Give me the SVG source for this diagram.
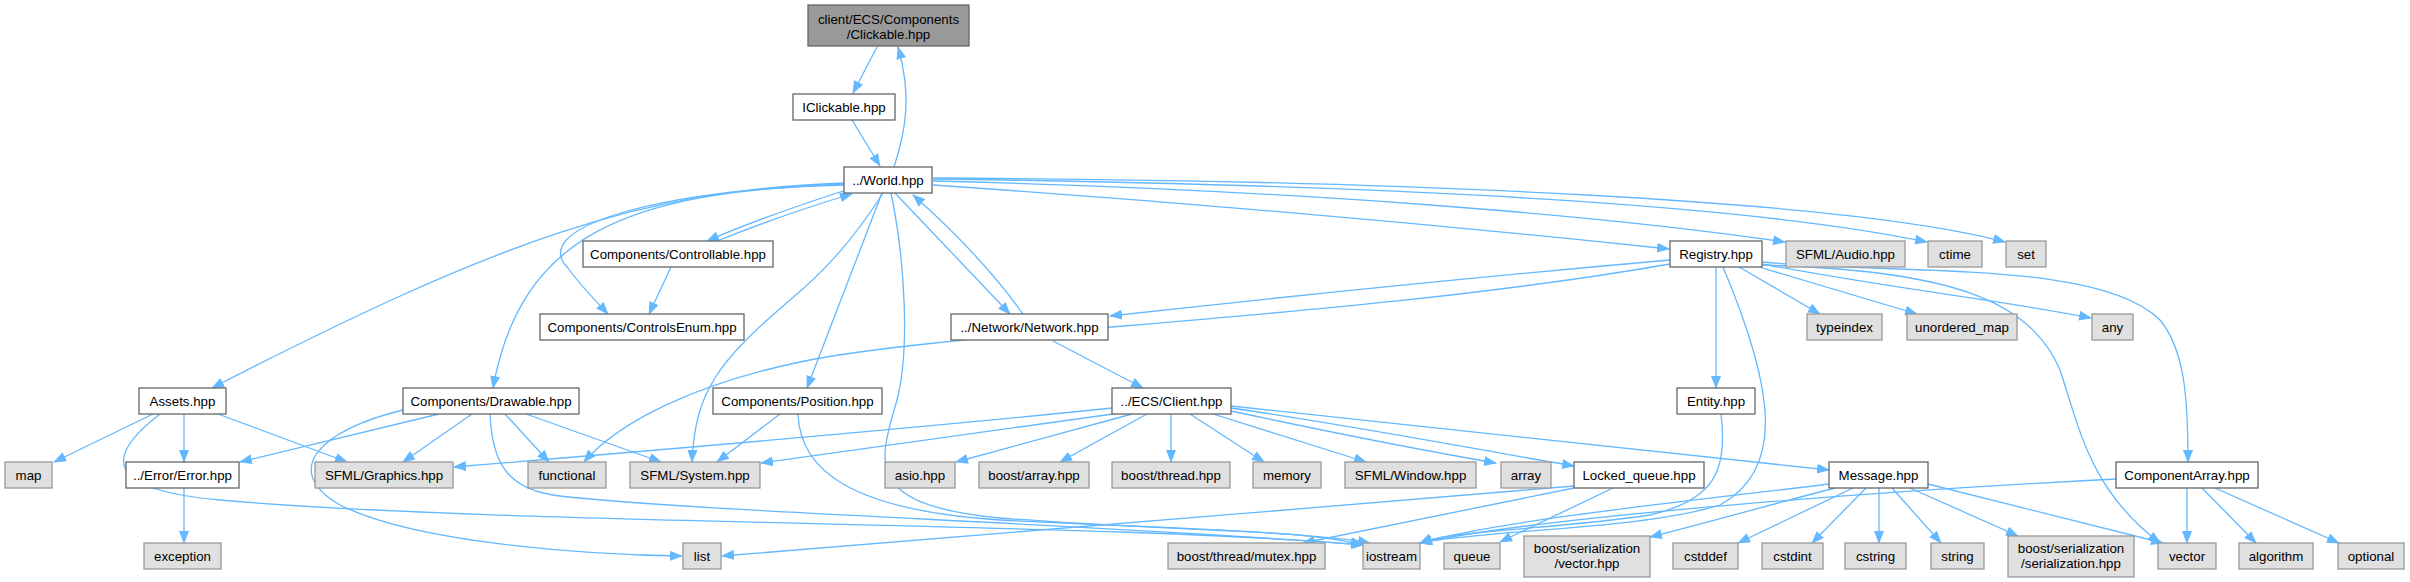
<svg xmlns="http://www.w3.org/2000/svg" width="2410" height="582" viewBox="0 0 2410 582">
<style>
.n rect{fill:#ffffff;stroke:#666666;stroke-width:1.3}
.s rect{fill:#e0e0e0;stroke:#999999;stroke-width:1.3}
.r rect{fill:#999999;stroke:#666666;stroke-width:1.3}
text{font-family:"Liberation Sans",Arial,Helvetica,sans-serif;font-size:13.3px;text-anchor:middle;fill:#000000}
#edges path{fill:none;stroke:#63b8ff;stroke-width:1.3;marker-end:url(#a)}
</style>
<defs>
<marker id="a" markerUnits="userSpaceOnUse" viewBox="0 0 13 10" markerWidth="13" markerHeight="10" refX="12" refY="5" orient="auto">
<path d="M0,0 L13,5 L0,10 z" fill="#63b8ff"/>
</marker>
</defs>
<rect width="2410" height="582" fill="#ffffff"/>
<g id="edges">
<path d="M877,47 L853,93"/>
<path d="M852,120 L880,166"/>
<path d="M894,167 C906,130 912,95 898,47"/>
<path d="M844,183 C640,190 500,240 212,388"/>
<path d="M846,190 C800,205 750,222 707,241"/>
<path d="M717,241 C760,224 810,206 852,194"/>
<path d="M844,184 C640,192 530,230 568,268 C580,285 595,300 608,314"/>
<path d="M671,267 L649,314"/>
<path d="M844,185 C620,190 520,240 493,388"/>
<path d="M883,193 C850,245 820,275 790,300 C720,360 695,390 692,462"/>
<path d="M882,193 L807,388"/>
<path d="M891,193 C905,260 910,350 897,400 C880,460 860,505 1000,518 C1150,530 1300,530 1370,543"/>
<path d="M895,193 L1010,314"/>
<path d="M1023,314 C995,275 955,232 913,195"/>
<path d="M933,185 Q1300,210 1669,249"/>
<path d="M933,181 C1300,190 1600,215 1785,242"/>
<path d="M933,179 C1400,185 1750,205 1927,242"/>
<path d="M933,178 C1400,180 1850,200 2005,242"/>
<path d="M1670,260 C1500,275 1300,295 1110,316"/>
<path d="M1670,264 C1350,320 950,330 800,362 C700,383 620,420 584,462"/>
<path d="M1716,267 L1716,388"/>
<path d="M1723,267 C1775,390 1785,470 1720,505 C1640,530 1480,530 1420,543"/>
<path d="M1739,267 L1820,314"/>
<path d="M1759,267 L1917,314"/>
<path d="M1762,264 C1900,290 2000,300 2091,318"/>
<path d="M1762,262 C1900,275 2100,260 2160,320 C2185,350 2188,400 2188,462"/>
<path d="M1762,265 C1950,270 2030,300 2060,370 C2080,430 2090,490 2160,543"/>
<path d="M1053,341 L1143,388"/>
<path d="M153,414 L54,462"/>
<path d="M184,414 L184,462"/>
<path d="M218,414 L347,462"/>
<path d="M160,414 C100,460 110,490 220,500 C500,525 1100,522 1363,545"/>
<path d="M439,414 L240,462"/>
<path d="M472,414 L403,462"/>
<path d="M505,414 L549,462"/>
<path d="M526,414 L661,462"/>
<path d="M403,410 C320,430 280,470 340,505 C420,545 600,555 682,556"/>
<path d="M490,414 C492,460 505,490 560,496 C700,512 1100,524 1363,545"/>
<path d="M184,488 L184,543"/>
<path d="M780,414 L717,462"/>
<path d="M798,414 C800,470 850,510 1000,520 C1200,530 1300,530 1363,545"/>
<path d="M1112,408 C900,430 600,455 454,467"/>
<path d="M1120,413 L761,463"/>
<path d="M1132,414 L956,462"/>
<path d="M1147,414 L1060,462"/>
<path d="M1171,414 L1171,462"/>
<path d="M1190,414 L1264,462"/>
<path d="M1213,414 L1366,462"/>
<path d="M1231,411 C1320,430 1420,450 1496,463"/>
<path d="M1231,408 C1350,425 1480,450 1574,466"/>
<path d="M1231,406 C1450,430 1650,450 1829,470"/>
<path d="M1574,486 C1300,510 900,540 722,556"/>
<path d="M1574,488 L1303,543"/>
<path d="M1613,488 L1500,542"/>
<path d="M1721,414 C1728,470 1715,500 1650,515 C1550,530 1450,530 1420,543"/>
<path d="M1829,484 C1700,500 1500,520 1420,543"/>
<path d="M1835,488 C1750,510 1700,525 1650,537"/>
<path d="M1853,488 L1738,543"/>
<path d="M1866,488 L1812,543"/>
<path d="M1879,488 L1879,543"/>
<path d="M1892,488 L1941,543"/>
<path d="M1910,488 L2018,536"/>
<path d="M1928,484 L2163,543"/>
<path d="M2116,479 C1900,490 1550,515 1420,543"/>
<path d="M2187,488 L2187,543"/>
<path d="M2202,488 L2256,543"/>
<path d="M2215,488 L2339,543"/>
</g>
<g id="clickable" class="r"><rect x="808" y="5" width="161" height="41"/><text x="888.5" y="24">client/ECS/Components</text><text x="888.5" y="39">/Clickable.hpp</text></g>
<g id="iclickable" class="n"><rect x="793" y="94" width="102" height="26"/><text x="844" y="111.7">IClickable.hpp</text></g>
<g id="world" class="n"><rect x="844" y="167" width="88" height="26"/><text x="888" y="184.7">../World.hpp</text></g>
<g id="controllable" class="n"><rect x="583" y="241" width="190" height="26"/><text x="678" y="258.7">Components/Controllable.hpp</text></g>
<g id="controlsenum" class="n"><rect x="540" y="314" width="204" height="26"/><text x="642" y="331.7">Components/ControlsEnum.hpp</text></g>
<g id="network" class="n"><rect x="951" y="314" width="157" height="26"/><text x="1029.5" y="331.7">../Network/Network.hpp</text></g>
<g id="registry" class="n"><rect x="1670" y="241" width="92" height="26"/><text x="1716" y="258.7">Registry.hpp</text></g>
<g id="sfml_audio" class="s"><rect x="1786" y="241" width="119" height="26"/><text x="1845.5" y="258.7">SFML/Audio.hpp</text></g>
<g id="ctime" class="s"><rect x="1928" y="241" width="54" height="26"/><text x="1955" y="258.7">ctime</text></g>
<g id="set" class="s"><rect x="2006" y="241" width="40" height="26"/><text x="2026" y="258.7">set</text></g>
<g id="typeindex" class="s"><rect x="1807" y="314" width="75" height="26"/><text x="1844.5" y="331.7">typeindex</text></g>
<g id="unordered_map" class="s"><rect x="1907" y="314" width="110" height="26"/><text x="1962" y="331.7">unordered_map</text></g>
<g id="any" class="s"><rect x="2092" y="314" width="41" height="26"/><text x="2112.5" y="331.7">any</text></g>
<g id="assets" class="n"><rect x="139" y="388" width="87" height="26"/><text x="182.5" y="405.7">Assets.hpp</text></g>
<g id="drawable" class="n"><rect x="403" y="388" width="176" height="26"/><text x="491" y="405.7">Components/Drawable.hpp</text></g>
<g id="position" class="n"><rect x="713" y="388" width="169" height="26"/><text x="797.5" y="405.7">Components/Position.hpp</text></g>
<g id="client" class="n"><rect x="1112" y="388" width="119" height="26"/><text x="1171.5" y="405.7">../ECS/Client.hpp</text></g>
<g id="entity" class="n"><rect x="1677" y="388" width="78" height="26"/><text x="1716" y="405.7">Entity.hpp</text></g>
<g id="map" class="s"><rect x="5" y="462" width="47" height="26"/><text x="28.5" y="479.7">map</text></g>
<g id="error" class="n"><rect x="126" y="462" width="113" height="26"/><text x="182.5" y="479.7">../Error/Error.hpp</text></g>
<g id="sfml_graphics" class="s"><rect x="315" y="462" width="138" height="26"/><text x="384" y="479.7">SFML/Graphics.hpp</text></g>
<g id="functional" class="s"><rect x="528" y="462" width="78" height="26"/><text x="567" y="479.7">functional</text></g>
<g id="sfml_system" class="s"><rect x="630" y="462" width="130" height="26"/><text x="695" y="479.7">SFML/System.hpp</text></g>
<g id="asio" class="s"><rect x="885" y="462" width="70" height="26"/><text x="920" y="479.7">asio.hpp</text></g>
<g id="boost_array" class="s"><rect x="979" y="462" width="110" height="26"/><text x="1034" y="479.7">boost/array.hpp</text></g>
<g id="boost_thread" class="s"><rect x="1112" y="462" width="118" height="26"/><text x="1171" y="479.7">boost/thread.hpp</text></g>
<g id="memory" class="s"><rect x="1253" y="462" width="68" height="26"/><text x="1287" y="479.7">memory</text></g>
<g id="sfml_window" class="s"><rect x="1345" y="462" width="131" height="26"/><text x="1410.5" y="479.7">SFML/Window.hpp</text></g>
<g id="array" class="s"><rect x="1501" y="462" width="50" height="26"/><text x="1526" y="479.7">array</text></g>
<g id="locked_queue" class="n"><rect x="1574" y="462" width="130" height="26"/><text x="1639" y="479.7">Locked_queue.hpp</text></g>
<g id="message" class="n"><rect x="1829" y="462" width="99" height="26"/><text x="1878.5" y="479.7">Message.hpp</text></g>
<g id="componentarray" class="n"><rect x="2116" y="462" width="142" height="26"/><text x="2187" y="479.7">ComponentArray.hpp</text></g>
<g id="exception" class="s"><rect x="144" y="543" width="77" height="26"/><text x="182.5" y="560.7">exception</text></g>
<g id="list" class="s"><rect x="683" y="543" width="38" height="26"/><text x="702" y="560.7">list</text></g>
<g id="mutex" class="s"><rect x="1168" y="543" width="157" height="26"/><text x="1246.5" y="560.7">boost/thread/mutex.hpp</text></g>
<g id="iostream" class="s"><rect x="1363" y="543" width="57" height="26"/><text x="1391.5" y="560.7">iostream</text></g>
<g id="queue" class="s"><rect x="1444" y="543" width="56" height="26"/><text x="1472" y="560.7">queue</text></g>
<g id="bs_vector" class="s"><rect x="1524" y="536" width="126" height="41"/><text x="1587" y="553">boost/serialization</text><text x="1587" y="568">/vector.hpp</text></g>
<g id="cstddef" class="s"><rect x="1673" y="543" width="65" height="26"/><text x="1705.5" y="560.7">cstddef</text></g>
<g id="cstdint" class="s"><rect x="1762" y="543" width="61" height="26"/><text x="1792.5" y="560.7">cstdint</text></g>
<g id="cstring" class="s"><rect x="1845" y="543" width="61" height="26"/><text x="1875.5" y="560.7">cstring</text></g>
<g id="string" class="s"><rect x="1931" y="543" width="53" height="26"/><text x="1957.5" y="560.7">string</text></g>
<g id="bs_serialization" class="s"><rect x="2008" y="536" width="126" height="41"/><text x="2071" y="553">boost/serialization</text><text x="2071" y="568">/serialization.hpp</text></g>
<g id="vector" class="s"><rect x="2158" y="543" width="58" height="26"/><text x="2187" y="560.7">vector</text></g>
<g id="algorithm" class="s"><rect x="2239" y="543" width="74" height="26"/><text x="2276" y="560.7">algorithm</text></g>
<g id="optional" class="s"><rect x="2338" y="543" width="66" height="26"/><text x="2371" y="560.7">optional</text></g>
</svg>
